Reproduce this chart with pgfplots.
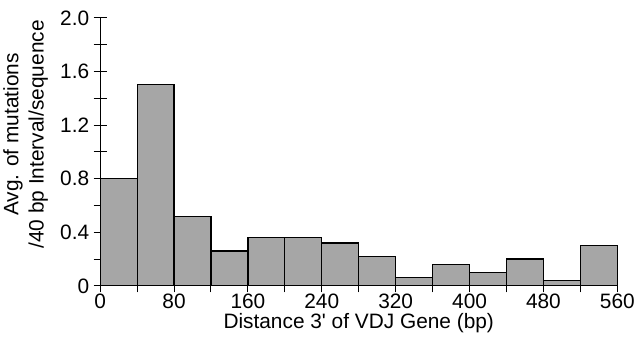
\documentclass[border=0pt]{standalone}
\usepackage{fontspec}
\setmainfont{Liberation Sans}[Ligatures=TeXOff]
\usepackage{pgfplots}
\pgfplotsset{compat=1.18}
\begin{document}
\begin{tikzpicture}
\begin{axis}[
  scale only axis,
  width=521pt, height=270pt,
  xmin=0, xmax=560, ymin=0, ymax=2,
  axis lines=left,
  axis line style={-, line width=1.2pt},
  xtick={0,80,...,560},
  minor xtick={40,120,...,520},
  ytick={0,0.4,...,2.0},
  yticklabels={0,0.4,0.8,1.2,1.6,2.0},
  minor ytick={0.2,0.6,1.0,1.4,1.8},
  tick align=center,
  major tick length=13pt,
  minor tick length=13pt,
  every tick/.style={black, line width=1pt},
  /pgf/number format/assume math mode=true,
  tick label style={font=\fontsize{21}{24}\selectfont},
  xticklabel style={yshift=2pt},
  yticklabel style={xshift=-1pt},
  label style={font=\fontsize{21}{22.5}\selectfont},
  xlabel={Distance 3' of VDJ Gene (bp)},
  ylabel={Avg. of mutations\\[3pt]/40 bp Interval/sequence},
  ylabel style={align=center, at={(axis description cs:-0.094,0.565)}},
  xlabel style={yshift=2pt},
  clip=false,
]
\addplot[ybar interval, fill=black!35, draw=black, line width=1.2pt] coordinates {
(0,0.80) (40,1.50) (80,0.52) (120,0.26) (160,0.36) (200,0.36) (240,0.32)
(280,0.22) (320,0.06) (360,0.16) (400,0.10) (440,0.20) (480,0.04) (520,0.30) (560,0.30)
};
\path (rel axis cs:0,1) -- ++(0pt,18pt);
\path (rel axis cs:0,0) -- ++(0pt,-58pt);
\path (rel axis cs:1,0) -- ++(20pt,0pt);
\path (rel axis cs:0,0) -- ++(-97pt,0pt);
\end{axis}
\end{tikzpicture}
\end{document}
